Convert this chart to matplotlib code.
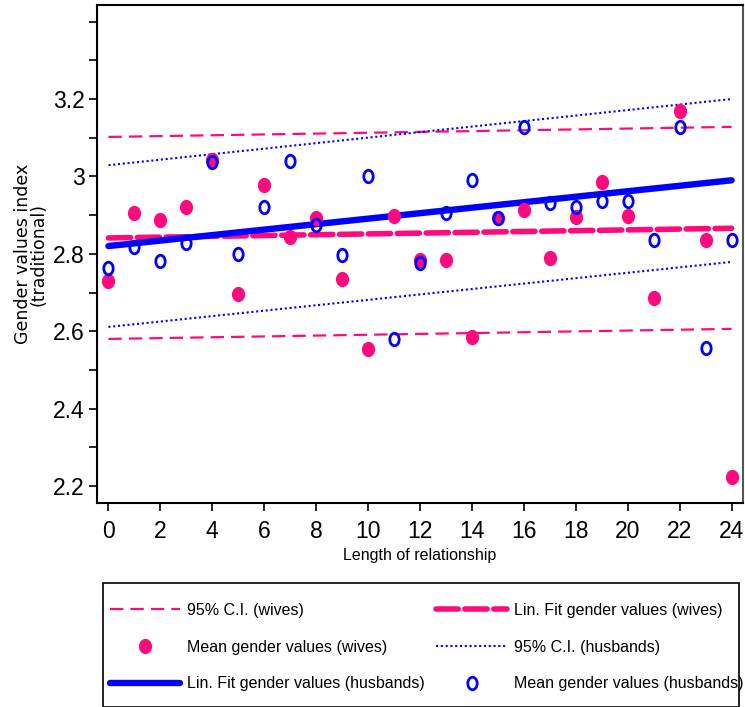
import numpy as np
import matplotlib
matplotlib.use("Agg")
import matplotlib.pyplot as plt
from matplotlib.path import Path
from matplotlib.patches import Rectangle

plt.rcParams['font.family'] = ['Liberation Sans', 'DejaVu Sans']

# years of relationship
years = list(range(25))

# mean gender values per year
wives_mean = [2.73, 2.905, 2.887, 2.92, 3.042, 2.696, 2.978, 2.843, 2.893, 2.735,
              2.554, 2.898, 2.784, 2.784, 2.585, 2.892, 2.913, 2.789, 2.895, 2.986,
              2.898, 2.686, 3.169, 2.836, 2.223]
husb_mean = [2.764, 2.818, 2.781, 2.828, 3.037, 2.80, 2.921, 3.04, 2.874, 2.797,
             3.001, 2.58, 2.776, 2.905, 2.991, 2.892, 3.128, 2.931, 2.921, 2.936,
             2.936, 2.836, 3.128, 2.557, 2.836]

# fitted lines and confidence bands (values at the ends, x = 0 and 24)
fit_x = [0, 24]
wives_fit = [2.841, 2.866]
wives_ci_lo = [2.580, 2.606]
wives_ci_hi = [3.102, 3.128]
husb_fit = [2.820, 2.990]
husb_ci_lo = [2.611, 2.779]
husb_ci_hi = [3.029, 3.200]

xticks = list(range(0, 25, 2))
yticks = [2.2, 2.4, 2.6, 2.8, 3.0, 3.2]
yticklabels = ["2.2", "2.4", "2.6", "2.8", "3", "3.2"]

PINK = '#ff0a7d'
BLUE = '#0000ff'

def ellipse(ax_ratio):
    c = Path.unit_circle()
    v = c.vertices.copy()
    v[:, 0] *= ax_ratio
    return Path(v, c.codes)

W, H = 745, 707
fig = plt.figure(figsize=(W / 100, H / 100), dpi=100)
ax = fig.add_axes([97 / W, 1 - 503 / H, 646 / W, 498 / H])

ci_w, = ax.plot(fit_x, wives_ci_hi, color=PINK, lw=1.6, dashes=(6, 3.2))
ax.plot(fit_x, wives_ci_lo, color=PINK, lw=1.6, dashes=(6, 3.2))
ci_h, = ax.plot(fit_x, husb_ci_hi, color=BLUE, lw=1.5, linestyle=(0, (1, 1.3)))
ax.plot(fit_x, husb_ci_lo, color=BLUE, lw=1.5, linestyle=(0, (1, 1.3)))
fit_w, = ax.plot(fit_x, wives_fit, color=PINK, lw=4, dashes=(4, 1.2),
                 dash_capstyle='round')
fit_h, = ax.plot(fit_x, husb_fit, color=BLUE, lw=4.6, solid_capstyle='round')
mk_w, = ax.plot(years, wives_mean, linestyle='none', marker=ellipse(0.85),
                ms=10, color=PINK, mec=PINK)
mk_h, = ax.plot(years, husb_mean, linestyle='none', marker=ellipse(0.75),
                ms=9, mfc='none', mec=BLUE, mew=2.0)

ax.set_xlim(-0.44, 24.44)
ax.set_ylim(2.156, 3.443)
ax.set_xticks(xticks)
ax.set_yticks(np.round(np.arange(2.2, 3.45, 0.1), 1), minor=True)
ax.set_yticks(yticks)
ax.set_yticklabels(yticklabels)
ax.tick_params(axis='both', which='both', direction='out', length=6, width=1.2,
               labelsize=16.5)
ax.tick_params(axis='x', pad=6)
ax.tick_params(axis='y', pad=3)
for s in ax.spines.values():
    s.set_linewidth(1.5)
ax.spines['right'].set_color('#555555')

ax.set_xlabel("Length of relationship", fontsize=11.5, labelpad=4)
ax.set_ylabel("Gender values index\n(traditional)", fontsize=12.5,
              family=['DejaVu Sans'], linespacing=0.8)
ax.yaxis.set_label_coords(-0.077, 0.5)

fig.patches.append(Rectangle((103 / W, 0), 636 / W, 1 - 583 / H,
                             transform=fig.transFigure, fill=False,
                             edgecolor='black', lw=1.2))
handles = [ci_w, mk_w, fit_h, fit_w, ci_h, mk_h]
labels = ["95% C.I. (wives)", "Mean gender values (wives)",
          "Lin. Fit gender values (husbands)", "Lin. Fit gender values (wives)",
          "95% C.I. (husbands)", "Mean gender values (husbands)"]
fig.legend(handles, labels, ncol=2, loc='upper left', frameon=False,
           bbox_to_anchor=(110 / W, 1 - 603 / H), borderpad=0, borderaxespad=0,
           fontsize=11.5, handlelength=4.4, handletextpad=0.45, columnspacing=0.7,
           labelspacing=1.35, numpoints=1)

fig.savefig("out.png", dpi=100)
